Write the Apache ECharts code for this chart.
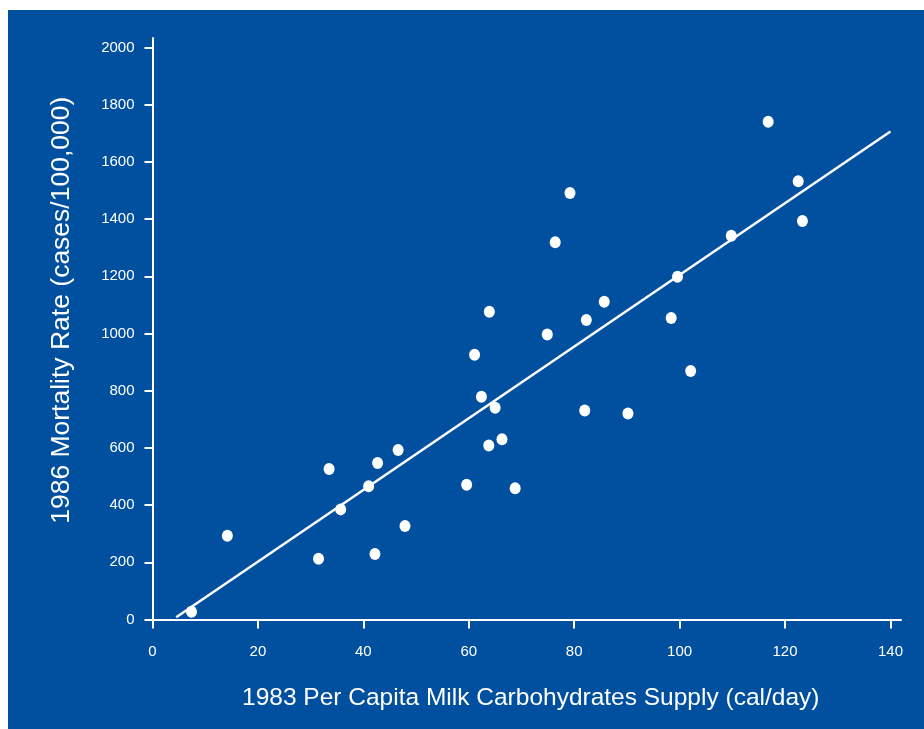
<!DOCTYPE html>
<html>
<head>
<meta charset="utf-8">
<script src="https://cdn.jsdelivr.net/npm/echarts@6/dist/echarts.min.js"></script>
<style>
  html, body { margin: 0; padding: 0; background: #ffffff; }
  #chart { position: absolute; left: 8px; top: 10px; width: 916px; height: 719px; }
</style>
</head>
<body>
<div id="chart"></div>
<script>
// Country observations: milk carbohydrate supply (cal/day) vs mortality rate
const supplyX = [7.4, 14.2, 31.5, 33.5, 35.7, 41.0, 42.2, 42.7, 46.6, 47.9,
                 59.6, 61.1, 62.4, 63.8, 63.9, 65.0, 66.3, 68.8, 74.9, 76.4,
                 79.2, 82.0, 82.3, 85.7, 90.2, 98.4, 99.6, 102.1, 109.8, 116.8,
                 122.5, 123.3];
const mortalityY = [27, 293, 212, 526, 385, 466, 229, 547, 593, 327,
                    471, 926, 779, 608, 1076, 740, 630, 459, 996, 1319,
                    1491, 731, 1047, 1111, 720, 1054, 1198, 869, 1342, 1740,
                    1532, 1393];
// Regression line end points
const fitX = [4.5, 140];
const fitY = [8, 1706];
// Tick labels
const xTicks = [0, 20, 40, 60, 80, 100, 120, 140];
const yTicks = [0, 200, 400, 600, 800, 1000, 1200, 1400, 1600, 1800, 2000];

const xTitle = '1983 Per Capita Milk Carbohydrates Supply (cal/day)';
const yTitle = '1986 Mortality Rate (cases/100,000)';

const points = supplyX.map((x, i) => [x, mortalityY[i]]);
const fitLine = fitX.map((x, i) => [x, fitY[i]]);

const FONT = '"Liberation Sans", Arial, sans-serif';
const chart = echarts.init(document.getElementById('chart'), null, { renderer: 'canvas' });
chart.setOption({
  backgroundColor: '#0150A0',
  animation: false,
  grid: { left: 144.5, right: 23, top: 28, bottom: 109.5, containLabel: false },
  xAxis: {
    type: 'value', min: 0, max: 142,
    name: xTitle, nameLocation: 'middle', nameGap: 66,
    nameTextStyle: { color: '#ffffff', fontSize: 24.5, fontFamily: FONT, padding: [0, 0, 0, 8] },
    axisLine: { show: true, onZero: true, lineStyle: { color: '#ffffff', width: 2 } },
    axisTick: { show: true, customValues: xTicks, length: 9, lineStyle: { color: '#ffffff', width: 2 } },
    axisLabel: { customValues: xTicks, color: '#ffffff', fontSize: 15, fontFamily: FONT, margin: 25,
                 formatter: v => String(v) },
    splitLine: { show: false }
  },
  yAxis: {
    type: 'value', min: 0, max: 2033,
    name: yTitle, nameLocation: 'middle', nameGap: 77, nameRotate: 90,
    nameTextStyle: { color: '#ffffff', fontSize: 26.5, fontFamily: FONT, padding: [0, 0, 0, 37] },
    axisLine: { show: true, onZero: true, lineStyle: { color: '#ffffff', width: 2 } },
    axisTick: { show: true, customValues: yTicks, length: 8, lineStyle: { color: '#ffffff', width: 2 } },
    axisLabel: { customValues: yTicks, color: '#ffffff', fontSize: 15, fontFamily: FONT, margin: 18,
                 formatter: v => String(v) },
    splitLine: { show: false }
  },
  series: [
    {
      type: 'line', data: fitLine, symbol: 'none', silent: true,
      lineStyle: { color: '#ffffff', width: 2.5 }, z: 2
    },
    {
      type: 'scatter', data: points, symbol: 'circle', symbolSize: [11, 12],
      itemStyle: { color: '#ffffff', opacity: 1 }, z: 3
    }
  ]
});
</script>
</body>
</html>
